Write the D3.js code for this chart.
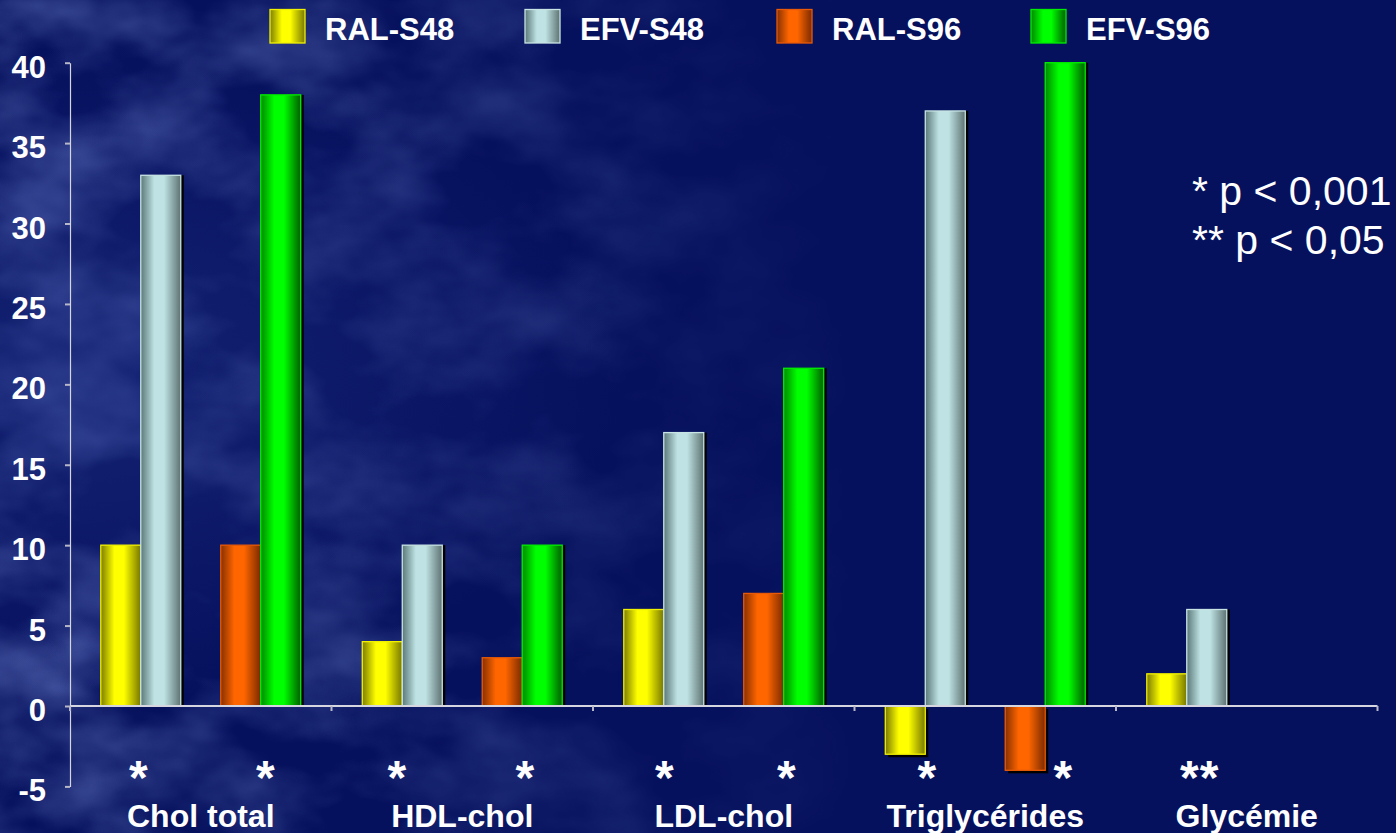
<!DOCTYPE html>
<html>
<head>
<meta charset="utf-8">
<script src="https://cdn.jsdelivr.net/npm/d3@7/dist/d3.min.js"></script>
<style>
  html, body { margin: 0; padding: 0; background: #06115d; }
  svg { display: block; }
  text { font-family: "Liberation Sans", Arial, sans-serif; fill: #ffffff; }
</style>
</head>
<body>
<svg id="chart" width="1396" height="833"></svg>
<script>
// Change from baseline (%) of lipid and glucose parameters
const categories = ["Chol total", "HDL-chol", "LDL-chol", "Triglycérides", "Glycémie"];
const seriesNames = ["RAL-S48", "EFV-S48", "RAL-S96", "EFV-S96"];
const ralS48 = [10, 4, 6, -3, 2];
const efvS48 = [33, 10, 17, 37, 6];
const ralS96 = [10, 3, 7, -4, null];
const efvS96 = [38, 10, 21, 40, null];
const yTickValues = [-5, 0, 5, 10, 15, 20, 25, 30, 35, 40];

// significance marks under each pair of bars
const sigCategory = ["Chol total", "Chol total", "HDL-chol", "HDL-chol", "LDL-chol", "LDL-chol", "Triglycérides", "Triglycérides", "Glycémie"];
const sigPair     = ["S48", "S96", "S48", "S96", "S48", "S96", "S48", "S96", "S48"];
const sigMark     = ["*", "*", "*", "*", "*", "*", "*", "*", "**"];
const footnotes = ["* p < 0,001", "** p < 0,05"];

const seriesValues = [ralS48, efvS48, ralS96, efvS96];

// colours: [edge dark left, bright centre, edge dark right, outline]
const palette = {
  "RAL-S48": ["#7c7c00", "#ffff00", "#777700", "#f2f200"],
  "EFV-S48": ["#5b7878", "#bfe3e4", "#5e7272", "#c8e4e4"],
  "RAL-S96": ["#883000", "#ff6600", "#7a2a00", "#e85a08"],
  "EFV-S96": ["#008a00", "#00ff00", "#005f00", "#00ee00"]
};

const svg = d3.select("#chart");
const W = 1396, H = 833;
const defs = svg.append("defs");

// ---- background: deep navy with a soft cloudy texture on the left
svg.append("rect").attr("width", W).attr("height", H).attr("fill", "#06115d");

const fadeGrad = defs.append("linearGradient").attr("id", "fade")
  .attr("x1", 0).attr("x2", 1).attr("y1", 0).attr("y2", 0);
fadeGrad.append("stop").attr("offset", "0%").attr("stop-color", "#fff").attr("stop-opacity", 1);
fadeGrad.append("stop").attr("offset", "22%").attr("stop-color", "#fff").attr("stop-opacity", 0.75);
fadeGrad.append("stop").attr("offset", "45%").attr("stop-color", "#fff").attr("stop-opacity", 0.3);
fadeGrad.append("stop").attr("offset", "62%").attr("stop-color", "#fff").attr("stop-opacity", 0);
defs.append("mask").attr("id", "fadeMask")
  .append("rect").attr("width", W).attr("height", H).attr("fill", "url(#fade)");

const tex = defs.append("filter").attr("id", "clouds")
  .attr("x", 0).attr("y", 0).attr("width", "100%").attr("height", "100%");
tex.append("feTurbulence").attr("type", "fractalNoise")
  .attr("baseFrequency", "0.007 0.011").attr("numOctaves", 4).attr("seed", 7).attr("result", "noise");
tex.append("feColorMatrix").attr("in", "noise").attr("type", "matrix")
  .attr("values", "0 0 0 0 0.14  0 0 0 0 0.2  0 0 0 0 0.56  1.8 0 0 0 -0.68");
svg.append("rect").attr("width", W).attr("height", H)
  .attr("filter", "url(#clouds)").attr("mask", "url(#fadeMask)").attr("opacity", 0.75);

// a faint lighter wash on the left side
const wash = defs.append("radialGradient").attr("id", "wash")
  .attr("cx", 0.05).attr("cy", 0.45).attr("r", 0.4);
wash.append("stop").attr("offset", "0%").attr("stop-color", "#22338a").attr("stop-opacity", 0.5);
wash.append("stop").attr("offset", "100%").attr("stop-color", "#22338a").attr("stop-opacity", 0);
svg.append("rect").attr("width", W).attr("height", H).attr("fill", "url(#wash)");

// ---- gradients for the cylindrical bar look
seriesNames.forEach((s, i) => {
  const c = palette[s];
  const g = defs.append("linearGradient").attr("id", "grad" + i)
    .attr("x1", 0).attr("x2", 1).attr("y1", 0).attr("y2", 0);
  g.append("stop").attr("offset", "0%").attr("stop-color", c[0]);
  g.append("stop").attr("offset", "34%").attr("stop-color", c[1]);
  g.append("stop").attr("offset", "58%").attr("stop-color", c[1]);
  g.append("stop").attr("offset", "100%").attr("stop-color", c[2]);
});

// ---- scales
const plotLeft = 70, plotRight = 1377.5;
const y = d3.scaleLinear().domain([-5, 40]).range([786.4, 62.7]);
const x0 = d3.scaleBand().domain(categories).range([plotLeft, plotRight]).padding(0);
const slots = ["RAL-S48", "EFV-S48", "", "RAL-S96", "EFV-S96"];
const x1 = d3.scaleBand().domain(slots).range([0, x0.bandwidth()])
  .paddingInner(0).paddingOuter(0.77);

// ---- bars
const barData = [];
seriesNames.forEach((s, si) => {
  categories.forEach((c, ci) => {
    const v = seriesValues[si][ci];
    if (v !== null && v !== undefined) barData.push({ series: s, si, category: c, value: v });
  });
});

const bars = svg.append("g");
// drop shadows first, so each bar sits on top
bars.selectAll("rect.shadow").data(barData).join("rect")
  .attr("class", "shadow")
  .attr("x", d => x0(d.category) + x1(d.series) + 3)
  .attr("y", d => (d.value >= 0 ? y(d.value) : y(0)) + (d.value >= 0 ? 0 : 3))
  .attr("width", x1.bandwidth())
  .attr("height", d => Math.abs(y(d.value) - y(0)))
  .attr("fill", "#000");

bars.selectAll("rect.bar").data(barData).join("rect")
  .attr("class", "bar")
  .attr("x", d => x0(d.category) + x1(d.series))
  .attr("y", d => d.value >= 0 ? y(d.value) : y(0))
  .attr("width", x1.bandwidth())
  .attr("height", d => Math.abs(y(d.value) - y(0)))
  .attr("fill", d => `url(#grad${d.si})`)
  .attr("stroke", d => palette[d.series][3])
  .attr("stroke-width", 1.3);

// ---- axes
const axisColor = "#d6d6e0";
const yAxis = svg.append("g").attr("transform", `translate(${plotLeft},0)`)
  .call(d3.axisLeft(y).tickValues(yTickValues).tickSize(5).tickSizeOuter(0)
    .tickFormat(d => (d < 0 ? "-" : "") + Math.abs(d)));
yAxis.select(".domain").attr("stroke", axisColor).attr("stroke-width", 1.2);
yAxis.selectAll(".tick line").attr("stroke", "#b8b8c8").attr("stroke-width", 2);
yAxis.selectAll(".tick text")
  .attr("x", -24).attr("dy", "0.47em")
  .style("font-size", "31px").style("font-weight", "bold").attr("fill", "#fff");

// baseline at zero with category separators
const xAxis = svg.append("g").attr("transform", `translate(0,${y(0)})`);
xAxis.append("line").attr("x1", plotLeft).attr("x2", plotRight)
  .attr("stroke", axisColor).attr("stroke-width", 1.8);
const bounds = categories.map(c => x0(c)).concat([plotRight]);
xAxis.selectAll("line.sep").data(bounds).join("line").attr("class", "sep")
  .attr("x1", d => d).attr("x2", d => d).attr("y1", 0).attr("y2", 5)
  .attr("stroke", "#b8b8c8").attr("stroke-width", 2);

// category labels
svg.append("g").selectAll("text").data(categories).join("text")
  .attr("x", d => x0(d) + x0.bandwidth() / 2)
  .attr("y", 827)
  .attr("text-anchor", "middle")
  .style("font-size", "32px").style("font-weight", "bold")
  .text(d => d);

// significance marks, centred under each pair (nudged clear of negative bars)
const markNudge = [-2, 5, -5, 3, 1, 3, 2, 18, 13];
svg.append("g").selectAll("text").data(sigMark).join("text")
  .attr("x", (d, i) => x0(sigCategory[i]) + x1("EFV-" + sigPair[i]) + markNudge[i])
  .attr("y", 794)
  .attr("text-anchor", "middle")
  .style("font-size", "48px").style("font-weight", "bold")
  .style("letter-spacing", "1px")
  .text(d => d);

// ---- legend
const legend = svg.append("g");
const legendX = [270, 525, 777, 1031];
seriesNames.forEach((s, i) => {
  const g = legend.append("g").attr("transform", `translate(${legendX[i]},9.5)`);
  g.append("rect").attr("width", 35).attr("height", 33.5)
    .attr("fill", `url(#grad${i})`)
    .attr("stroke", palette[s][3]).attr("stroke-width", 1.3);
  g.append("text").attr("x", 55).attr("y", 30)
    .style("font-size", "31px").style("font-weight", "bold")
    .text(s);
});

// ---- footnotes
svg.append("g").selectAll("text").data(footnotes).join("text")
  .attr("x", 1192)
  .attr("y", (d, i) => 205 + i * 49)
  .style("font-size", "41px")
  .text(d => d);
</script>
</body>
</html>
